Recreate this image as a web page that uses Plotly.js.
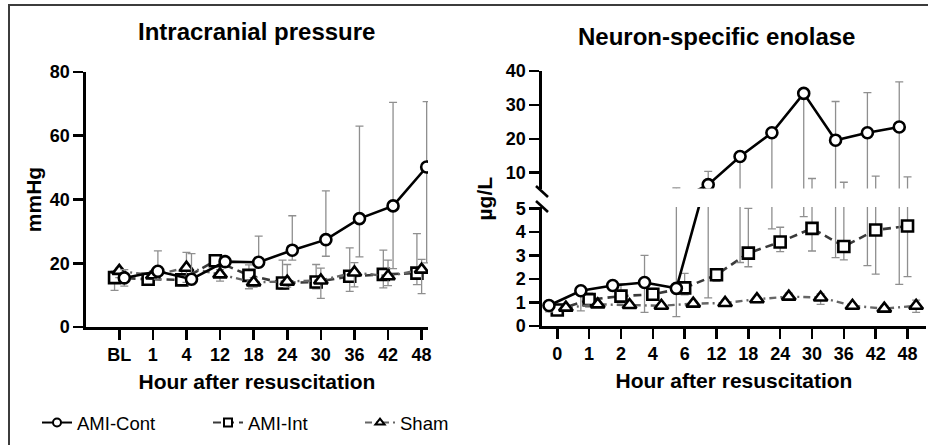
<!DOCTYPE html>
<html><head><meta charset="utf-8">
<script src="https://cdn.plot.ly/plotly-3.0.1.min.js"></script>
<style>
html,body{margin:0;padding:0;background:#fff}
#wrap{position:relative;width:928px;height:445px;overflow:hidden}
#chart{width:928px;height:445px}
#frame{position:absolute;left:8px;top:4px;width:922px;height:445px;border-left:2px solid #3c3c3c;border-top:2px solid #3c3c3c;pointer-events:none;box-sizing:border-box}
</style></head>
<body><div id="wrap"><div id="chart"></div><div id="frame"></div></div>
<script>
// ---------- Intracranial pressure (mmHg) ----------
const icpCats = ['BL','1','4','12','18','24','30','36','42','48'];
const icpContMean = [15.4, 17.5, 15.0, 20.5, 20.3, 24.1, 27.4, 34.0, 38.0, 50.2];
const icpContHi   = [18.0, 23.9, 23.0, 21.8, 28.5, 34.9, 42.7, 63.0, 70.5, 70.7];
const icpContLo   = [12.8, 15.0, 13.3, 19.3, 18.8, 21.0, 22.2, 22.0, 18.3, 20.1];
const icpIntMean  = [15.5, 15.0, 14.8, 20.8, 16.2, 13.8, 14.1, 15.9, 16.5, 16.9];
const icpIntHi    = [17.5, 16.5, 17.5, 22.0, 19.5, 21.0, 19.6, 24.8, 24.1, 29.3];
const icpIntLo    = [11.5, 13.5, 13.0, 19.0, 12.0, 11.8, 12.0, 11.2, 12.3, 13.3];
const icpShamMean = [17.6, 16.2, 18.6, 16.5, 14.0, 14.2, 14.6, 17.1, 15.9, 18.0];
const icpShamHi   = [18.5, 17.5, 23.4, 18.0, 15.5, 19.6, 18.5, 20.2, 21.0, 21.2];
const icpShamLo   = [15.5, 15.0, 14.0, 14.4, 12.5, 12.5, 9.0, 12.6, 13.0, 10.5];
const icpYTicks   = [0, 20, 40, 60, 80];

// ---------- Neuron-specific enolase (µg/L) ----------
const nseCats = ['0','1','2','4','6','12','18','24','30','36','42','48'];
const nseContMean = [0.87, 1.50, 1.72, 1.85, 1.60, 6.5, 14.8, 21.8, 33.4, 19.6, 21.8, 23.5];
const nseContHi   = [1.0, 1.6, 1.85, 3.0, 5.5, 10.4, 15.8, 22.8, 34.5, 31.0, 33.6, 36.8];
const nseContLo   = [0.6, 0.64, 1.5, 0.58, 0.40, 1.2, 2.7, 4.13, 4.65, 2.91, 2.57, 1.77];
const nseIntMean  = [0.68, 1.12, 1.27, 1.35, 1.62, 2.18, 3.10, 3.57, 4.15, 3.38, 4.08, 4.25];
const nseIntHi    = [0.85, 1.4, 1.8, 1.6, 2.24, 2.4, 5.0, 4.2, 8.3, 7.2, 9.0, 8.8];
const nseIntLo    = [0.55, 0.8, 1.0, 1.15, 1.32, 1.9, 2.52, 3.16, 3.19, 2.81, 2.21, 2.10];
const nseShamMean = [0.78, 0.92, 0.89, 0.86, 0.95, 0.98, 1.14, 1.25, 1.21, 0.86, 0.74, 0.86];
const nseShamHi   = [0.9, 1.0, 1.0, 0.95, 1.05, 1.1, 1.25, 1.4, 1.37, 0.95, 0.85, 1.1];
const nseShamLo   = [0.65, 0.8, 0.8, 0.75, 0.85, 0.88, 1.0, 1.1, 0.92, 0.75, 0.65, 0.58];
const nseLowTicks = [0, 1, 2, 3, 4, 5];
const nseHighTicks = [10, 20, 30, 40];

const groupNames = ['AMI-Cont', 'AMI-Int', 'Sham'];

// ---------- helpers ----------
const W = 928, H = 445;
const px = v => v / W;
const py = v => 1 - v / H;
const FONT = 'Liberation Sans, Arial, Helvetica, sans-serif';
const idx = (arr, off) => arr.map((_, i) => i + off);
function err(mean, hi, lo) {
  return {type: 'data', symmetric: false,
    array: hi.map((h, i) => Math.max(0, h - mean[i])),
    arrayminus: lo.map((l, i) => Math.max(0, mean[i] - l)),
    color: '#8f8f8f', thickness: 1.3, width: 4};
}
const styles = {
  cont: {line: {color: '#000', width: 2.6}, marker: {symbol: 'circle', size: 11, color: '#fff', line: {color: '#000', width: 2.6}}},
  int:  {line: {color: '#3a3a3a', width: 2.6, dash: '8px,5px'}, marker: {symbol: 'square', size: 11, color: '#fff', line: {color: '#000', width: 2.6}}},
  sham: {line: {color: '#666', width: 2.4, dash: '7px,4px,2px,4px'}, marker: {symbol: 'triangle-up', size: 12, color: '#fff', line: {color: '#000', width: 2.6}}}
};
function tr(cats, off, mean, hi, lo, st, xa, ya, mode) {
  return {type: 'scatter', mode: mode || 'lines+markers',
    x: idx(cats, off), y: mean, xaxis: xa, yaxis: ya,
    line: st.line, marker: st.marker, error_y: err(mean, hi, lo),
    showlegend: false, cliponaxis: true, hoverinfo: 'skip'};
}
function legendItem(name, st, leg) {
  return {type: 'scatter', mode: 'lines+markers', name: name, x: [null], y: [null],
    xaxis: 'x', yaxis: 'y', legend: leg, showlegend: true, hoverinfo: 'skip',
    line: Object.assign({}, st.line, {width: 2}),
    marker: Object.assign({}, st.marker, {size: 8, line: {color: '#000', width: 2}})};
}

const data = [
  // left panel
  tr(icpCats, -0.14, icpIntMean, icpIntHi, icpIntLo, styles.int, 'x', 'y'),
  tr(icpCats, 0, icpShamMean, icpShamHi, icpShamLo, styles.sham, 'x', 'y'),
  tr(icpCats, 0.15, icpContMean, icpContHi, icpContLo, styles.cont, 'x', 'y'),
  // right panel, lower segment
  tr(nseCats, 0, nseIntMean, nseIntHi, nseIntLo, styles.int, 'x2', 'y2'),
  tr(nseCats, 0.27, nseShamMean, nseShamHi, nseShamLo, styles.sham, 'x2', 'y2'),
  tr(nseCats, -0.26, nseContMean, nseContHi, nseContLo, styles.cont, 'x2', 'y2'),
  // right panel, upper segment
  Object.assign(tr(nseCats, 0, nseIntMean, nseIntHi, nseIntLo, styles.int, 'x2', 'y3', 'markers'),
    {marker: {size: 1, opacity: 0}}),
  tr(nseCats, -0.26, nseContMean, nseContHi, nseContLo, styles.cont, 'x2', 'y3'),
  // legend entries
  legendItem(groupNames[0], styles.cont, 'legend'),
  legendItem(groupNames[1], styles.int, 'legend2'),
  legendItem(groupNames[2], styles.sham, 'legend3')
];

const axisCommon = {
  showline: true, linecolor: '#000', linewidth: 2.6, mirror: false,
  ticks: 'outside', ticklen: 10, tickwidth: 2.6, tickcolor: '#000',
  showgrid: false, zeroline: false, fixedrange: true,
  tickfont: {family: FONT, size: 18, color: '#000', weight: 'bold'}
};
const titleFont = {family: FONT, size: 21, color: '#000', weight: 'bold'};
const legFont = {family: FONT, size: 18.5, color: '#000'};
const legBase = {orientation: 'h', y: py(423), xanchor: 'left', yanchor: 'middle',
  font: legFont, bgcolor: 'rgba(0,0,0,0)', borderwidth: 0};

const layout = {
  width: W, height: H,
  margin: {l: 0, r: 0, t: 0, b: 0},
  paper_bgcolor: '#fff', plot_bgcolor: 'rgba(0,0,0,0)',
  font: {family: FONT, color: '#000'},
  xaxis: Object.assign({}, axisCommon, {
    domain: [px(86), px(428)], range: [-0.99, 9.19], anchor: 'y',
    tickmode: 'array', tickvals: icpCats.map((_, i) => i), ticktext: icpCats,
    title: {text: 'Hour after resuscitation', font: titleFont, standoff: 10}
  }),
  yaxis: Object.assign({}, axisCommon, {
    domain: [py(327), py(72)], range: [0, 80], anchor: 'x',
    tickmode: 'array', tickvals: icpYTicks,
    title: {text: 'mmHg', font: titleFont, standoff: 3}
  }),
  xaxis2: Object.assign({}, axisCommon, {
    domain: [px(542), px(926)], range: [-0.48, 11.58], anchor: 'y2',
    tickmode: 'array', tickvals: nseCats.map((_, i) => i), ticktext: nseCats,
    title: {text: 'Hour after resuscitation', font: titleFont, standoff: 10}
  }),
  yaxis2: Object.assign({}, axisCommon, {
    domain: [py(326), py(207)], range: [0, 5.06], anchor: 'x2',
    tickmode: 'array', tickvals: nseLowTicks
  }),
  yaxis3: Object.assign({}, axisCommon, {
    domain: [py(188.5), py(71)], range: [5.35, 40], anchor: 'x2',
    tickmode: 'array', tickvals: nseHighTicks
  }),
  showlegend: true,
  legend: Object.assign({}, legBase, {x: px(37)}),
  legend2: Object.assign({}, legBase, {x: px(208)}),
  legend3: Object.assign({}, legBase, {x: px(360)}),
  annotations: [
    {text: 'Intracranial pressure', xref: 'paper', yref: 'paper', x: px(256.5), y: py(31.5),
      xanchor: 'center', yanchor: 'middle', showarrow: false, font: {family: FONT, size: 24, weight: 'bold', color: '#000'}},
    {text: 'Neuron-specific enolase', xref: 'paper', yref: 'paper', x: px(716.5), y: py(36.5),
      xanchor: 'center', yanchor: 'middle', showarrow: false, font: {family: FONT, size: 24, weight: 'bold', color: '#000'}},
    {text: 'µg/L', xref: 'paper', yref: 'paper', x: px(484), y: py(198.5), textangle: -90,
      xanchor: 'center', yanchor: 'middle', showarrow: false, font: titleFont}
  ],
  shapes: [
    {type: 'line', xref: 'paper', yref: 'paper', x0: px(536), y0: py(186), x1: px(548), y1: py(197), line: {color: '#000', width: 2.6}},
    {type: 'line', xref: 'paper', yref: 'paper', x0: px(536), y0: py(201), x1: px(548), y1: py(212), line: {color: '#000', width: 2.6}}
  ]
};

Plotly.newPlot('chart', data, layout, {displayModeBar: false, staticPlot: true});
</script>
</body></html>
